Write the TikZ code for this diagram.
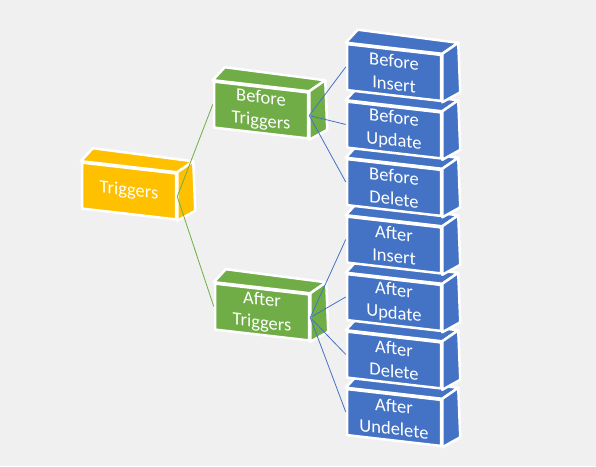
\documentclass[tikz,border=0pt]{standalone}
\usepackage{fontspec}
\setmainfont{Carlito}
\usetikzlibrary{calc}

\definecolor{bgcol}{RGB}{240,240,240}
\definecolor{gold}{RGB}{255,192,0}
\definecolor{leaf}{RGB}{112,173,71}
\definecolor{sky}{RGB}{68,114,196}

% #1 name, #2 centre of the front face, #3 colour, #4 text
\newcommand{\cuboid}[4]{%
  \begin{scope}[shift={#2}, yslant=-0.115]
    \node[blockface, fill=#3, transform shape] (#1) at (0,0) {#4};
  \end{scope}
  \draw[blockside, fill=#3] (#1.north west) -- ++(12,-13) -- ($(#1.north east)+(16,-11)$) -- (#1.north east) -- cycle;
  \draw[blockside, fill=#3] (#1.north east) -- ++(16,-11) -- ($(#1.south east)+(18,-10)$) -- (#1.south east) -- cycle;
}

\begin{document}
\begin{tikzpicture}[x=1pt, y=-1pt,
    blockface/.style={rectangle, draw=white, line width=2.5pt, rounded corners=1pt,
      minimum width=94pt, minimum height=46pt, inner sep=0pt, align=center,
      text=white, font=\fontsize{18.5}{23}\selectfont},
    blockside/.style={draw=white, line width=2.5pt, line join=round},
    greenline/.style={leaf, line width=0.8pt},
    blueline/.style={sky, line width=0.8pt}]
    \useasboundingbox[fill=bgcol] (0,0) rectangle (596,466);

    \cuboid{trig}{(129,191)}{gold}{Triggers}
    \cuboid{bt}{(261,110)}{leaf}{Before\\Triggers}
    \cuboid{at}{(262,312)}{leaf}{After\\Triggers}

    \cuboid{aundel}{(394,417.5)}{sky}{After\\Undelete}
    \cuboid{adel}{(394,360)}{sky}{After\\Delete}
    \cuboid{aupd}{(394,302.5)}{sky}{After\\Update}
    \cuboid{ains}{(394,245)}{sky}{After\\Insert}
    \cuboid{bdel}{(394,187.5)}{sky}{Before\\Delete}
    \cuboid{bupd}{(394,130)}{sky}{Before\\Update}
    \cuboid{bins}{(394,72.5)}{sky}{Before\\Insert}

    \draw[greenline] (trig.east) -- (bt.west);
    \draw[greenline] (trig.east) -- (at.west);

    \draw[blueline] (bt.east) -- (bins.west);
    \draw[blueline] (bt.east) -- (bupd.west);
    \draw[blueline] (bt.east) -- (bdel.west);
    \draw[blueline] (at.east) -- (ains.west);
    \draw[blueline] (at.east) -- (aupd.west);
    \draw[blueline] (at.east) -- (adel.west);
    \draw[blueline] (at.east) -- (aundel.west);
\end{tikzpicture}
\end{document}
